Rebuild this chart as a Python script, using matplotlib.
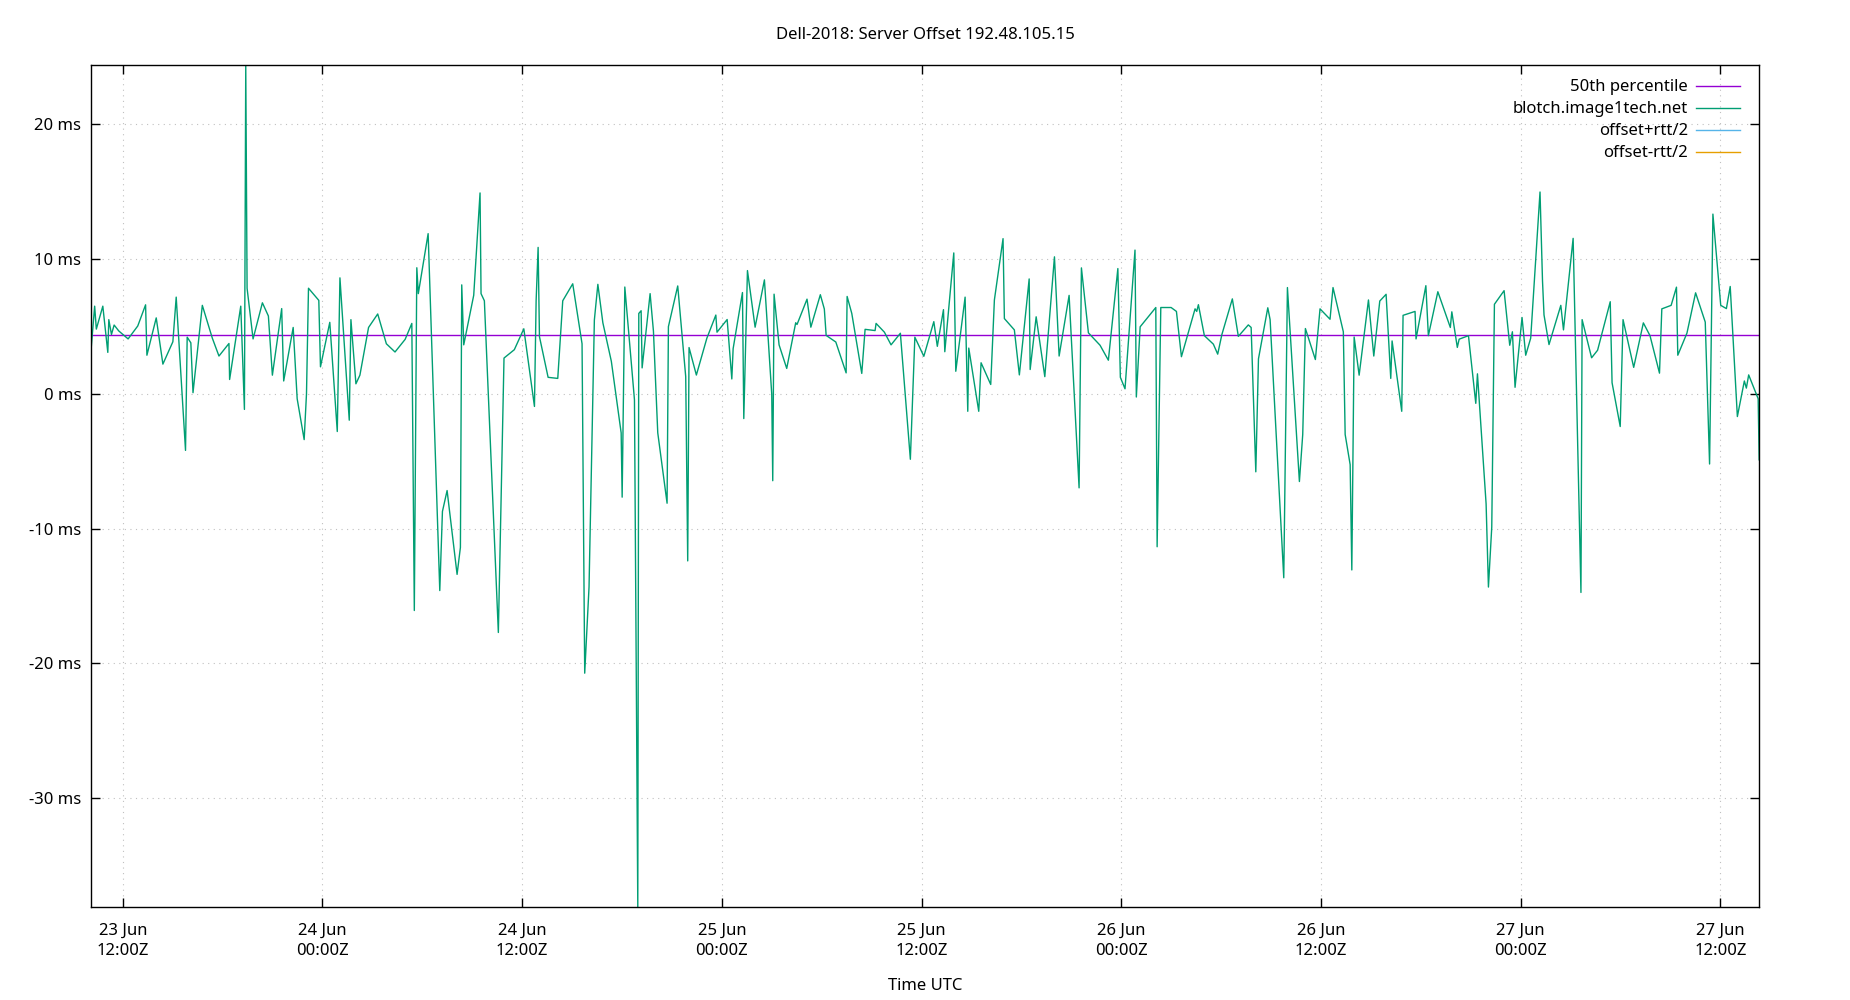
import datetime as dt
import matplotlib
matplotlib.use("Agg")
import matplotlib.pyplot as plt
import matplotlib.dates as mdates
from matplotlib.ticker import MultipleLocator, FuncFormatter

plt.rcParams['font.family'] = ['Noto Sans', 'DejaVu Sans']
plt.rcParams['font.size'] = 12

# hours since 23 Jun 00:00Z, offsets in ms
start = dt.datetime(2018, 6, 23)
hours = [
    10.08, 10.31, 10.41, 10.80, 11.10, 11.16, 11.32, 11.48, 11.76, 12.32,
    12.90, 13.37, 13.45, 14.01, 14.41, 15.01, 15.21, 15.77, 15.87, 16.09,
    16.22, 16.78, 17.38, 17.78, 18.38, 18.42, 19.09, 19.31, 19.39, 19.47,
    19.83, 20.39, 20.75, 20.99, 21.55, 21.67, 22.24, 22.48, 22.90, 23.04,
    23.16, 23.78, 23.88, 24.44, 24.89, 25.05, 25.61, 25.71, 26.01, 26.25,
    26.77, 27.32, 27.84, 28.36, 28.97, 29.37, 29.52, 29.67, 29.76, 30.35,
    31.05, 31.21, 31.49, 32.09, 32.29, 32.37, 32.49, 33.09, 33.47, 33.53,
    33.73, 34.57, 34.91, 35.53, 36.10, 36.74, 36.84, 36.96, 37.04, 37.56,
    38.14, 38.44, 39.04, 39.60, 39.76, 40.02, 40.34, 40.55, 40.85, 41.36,
    41.95, 42.01, 42.17, 42.75, 42.95, 43.01, 43.15, 43.21, 43.69, 43.89,
    44.15, 44.71, 44.79, 45.35, 45.83, 45.95, 46.03, 46.47, 47.10, 47.64,
    47.71, 48.32, 48.60, 48.68, 49.24, 49.32, 49.54, 50.00, 50.56, 51.00,
    51.06, 51.14, 51.44, 51.90, 52.44, 52.52, 53.12, 53.35, 53.92, 54.16,
    54.27, 54.85, 55.47, 55.53, 55.81, 56.41, 56.61, 57.21, 57.27, 57.77,
    58.17, 58.73, 59.33, 59.60, 60.14, 60.74, 60.95, 61.32, 61.40, 61.94,
    62.06, 62.62, 62.78, 62.84, 63.44, 63.58, 64.16, 64.38, 64.90, 64.98,
    65.58, 65.88, 66.47, 66.53, 66.89, 67.41, 67.99, 68.27, 68.87, 69.47,
    69.61, 70.03, 70.73, 71.23, 71.80, 71.95, 72.23, 72.83, 72.91, 73.14,
    74.08, 74.16, 74.38, 75.00, 75.32, 75.62, 76.44, 76.54, 76.64, 77.00,
    77.54, 77.80, 78.05, 78.68, 79.04, 79.64, 79.81, 80.09, 80.25, 80.81,
    80.95, 81.77, 81.99, 82.71, 82.91, 83.07, 83.67, 83.95, 84.55, 84.73,
    85.35, 85.46, 85.76, 85.86, 86.00, 86.30, 86.86, 87.18, 87.54, 87.92,
    88.20, 88.28, 88.86, 88.94, 89.66, 89.72, 90.31, 90.46, 91.03, 91.78,
    91.87, 92.20, 92.31, 92.87, 93.31, 93.41, 93.93, 94.07, 94.27, 94.43,
    95.01, 95.35, 95.51, 95.67, 96.09, 96.31, 96.61, 97.17, 97.32, 97.41,
    97.71, 98.42, 98.58, 99.16, 99.63, 99.70, 100.27, 100.63, 101.39, 101.50,
    101.99, 102.16, 102.80, 103.38, 103.78, 104.35, 104.49, 105.05, 105.37, 105.45,
    106.00, 106.52, 107.10, 107.36, 107.56, 108.03, 108.37, 108.60, 109.03, 109.45,
    109.57, 109.71, 110.28, 110.34,
]
offset_ms = [
    3.07, 6.5, 4.8, 6.5, 3.07, 5.5, 4.4, 5.1, 4.66, 4.07,
    5.03, 6.6, 2.86, 5.63, 2.2, 3.86, 7.17, -4.2, 4.2, 3.78,
    0.08, 6.56, 4.13, 2.8, 3.73, 1.06, 6.5, -1.16, 24.4, 7.83,
    4.07, 6.75, 5.77, 1.38, 6.32, 0.95, 4.92, -0.37, -3.4, 0.0,
    7.83, 6.93, 2.0, 5.3, -2.8, 8.6, -1.96, 5.5, 0.74, 1.38,
    4.92, 5.92, 3.71, 3.1, 4.04, 5.22, -16.08, 9.35, 7.43, 11.88,
    -14.6, -8.73, -7.18, -13.4, -11.4, 8.08, 3.63, 7.31, 14.9, 7.43,
    6.9, -17.71, 2.65, 3.27, 4.82, -0.94, 6.9, 10.86, 4.24, 1.22,
    1.14, 6.9, 8.16, 3.71, -20.73, -14.33, 5.47, 8.12, 5.27, 2.41,
    -2.9, -7.67, 7.92, -0.45, -38.1, 5.96, 6.16, 1.92, 7.43, 4.65,
    -2.9, -8.12, 4.98, 8.0, 1.27, -12.4, 3.43, 1.39, 4.12, 5.84,
    4.57, 5.51, 1.1, 3.35, 7.51, -1.84, 9.14, 4.94, 8.45, -0.04,
    -6.45, 7.39, 3.63, 1.88, 5.27, 5.14, 7.02, 4.94, 7.35, 6.29,
    4.33, 3.84, 1.55, 7.22, 5.96, 1.51, 4.78, 4.69, 5.22, 4.57,
    3.63, 4.49, -4.86, 4.2, 2.78, 5.35, 3.52, 6.24, 3.12, 10.45,
    1.67, 7.17, -1.3, 3.39, -1.3, 2.3, 0.69, 6.96, 11.51, 5.58,
    4.74, 1.4, 8.52, 1.8, 5.71, 1.27, 10.16, 2.8, 7.3, -6.98,
    9.34, 4.52, 3.6, 2.49, 9.29, 1.22, 0.37, 10.66, -0.24, 4.97,
    6.4, -11.35, 6.4, 6.4, 6.11, 2.75, 6.3, 6.11, 6.61, 4.31,
    3.68, 2.94, 4.39, 7.04, 4.26, 5.11, 4.92, -5.79, 2.59, 6.38,
    5.5, -13.65, 7.88, -6.51, -3.02, 4.84, 2.54, 6.3, 5.53, 7.88,
    4.6, -3.02, -5.26, -13.07, 4.21, 1.38, 6.96, 2.8, 6.88, 7.38,
    1.14, 3.92, -1.3, 5.82, 6.11, 4.07, 8.02, 4.31, 7.57, 4.92,
    6.08, 3.44, 4.05, 4.31, -0.71, 1.48, -8.17, -14.34, -9.89, 6.64,
    7.65, 3.6, 4.6, 0.48, 5.66, 2.86, 4.13, 14.97, 8.36, 5.85,
    3.65, 6.56, 4.74, 11.53, -14.74, 5.5, 2.67, 3.23, 6.83, 0.82,
    -2.43, 5.5, 1.96, 5.26, 4.31, 1.53, 6.3, 6.56, 7.91, 2.86,
    4.5, 7.49, 5.32, -5.21, 13.33, 6.56, 6.32, 7.96, -1.69, 0.95,
    0.42, 1.4, -0.37, -4.9,
]
p50_ms = 4.38

times = [start + dt.timedelta(hours=h) for h in hours]

fig = plt.figure(figsize=(18.5, 10), dpi=100)
ax = fig.add_axes([0.0491, 0.0927, 0.9018, 0.8424])

ax.axhline(p50_ms, color='#9400d3', lw=1.0, label='50th percentile')
ax.plot(times, offset_ms, color='#009e73', lw=1.0, label='blotch.image1tech.net')
ax.plot([], [], color='#56b4e9', lw=1.0, label='offset+rtt/2')
ax.plot([], [], color='#e69f00', lw=1.0, label='offset-rtt/2')

ax.set_xlim(times[0], times[-1])
ax.set_ylim(min(offset_ms), max(offset_ms))

ax.yaxis.set_major_locator(MultipleLocator(10))
ax.yaxis.set_major_formatter(FuncFormatter(lambda v, p: f"{int(round(v))} ms"))
ax.xaxis.set_major_locator(mdates.HourLocator(byhour=[0, 12]))
ax.xaxis.set_major_formatter(mdates.DateFormatter('%d %b\n%H:%MZ'))

ax.tick_params(direction='in', top=True, right=True, length=6.5, width=1)
ax.tick_params(axis='x', pad=11)
ax.tick_params(axis='y', pad=7)
for lbl in ax.get_xticklabels():
    lbl.set_linespacing(1.4)
for s in ax.spines.values():
    s.set_linewidth(1)

ax.grid(True, linestyle=(0, (1, 4)), color='#c0c0c0', lw=0.8)
ax.set_axisbelow(True)

ax.legend(loc='upper right', bbox_to_anchor=(0.9964, 0.9986), frameon=False,
          markerfirst=False, handlelength=2.6, labelspacing=0.36, borderpad=0.3,
          borderaxespad=0.5, handletextpad=0.5)

fig.text(0.5, 0.965, 'Dell-2018: Server Offset 192.48.105.15', ha='center', va='center')
fig.text(0.5, 0.014, 'Time UTC', ha='center', va='center')

fig.savefig('out.png', dpi=100)
